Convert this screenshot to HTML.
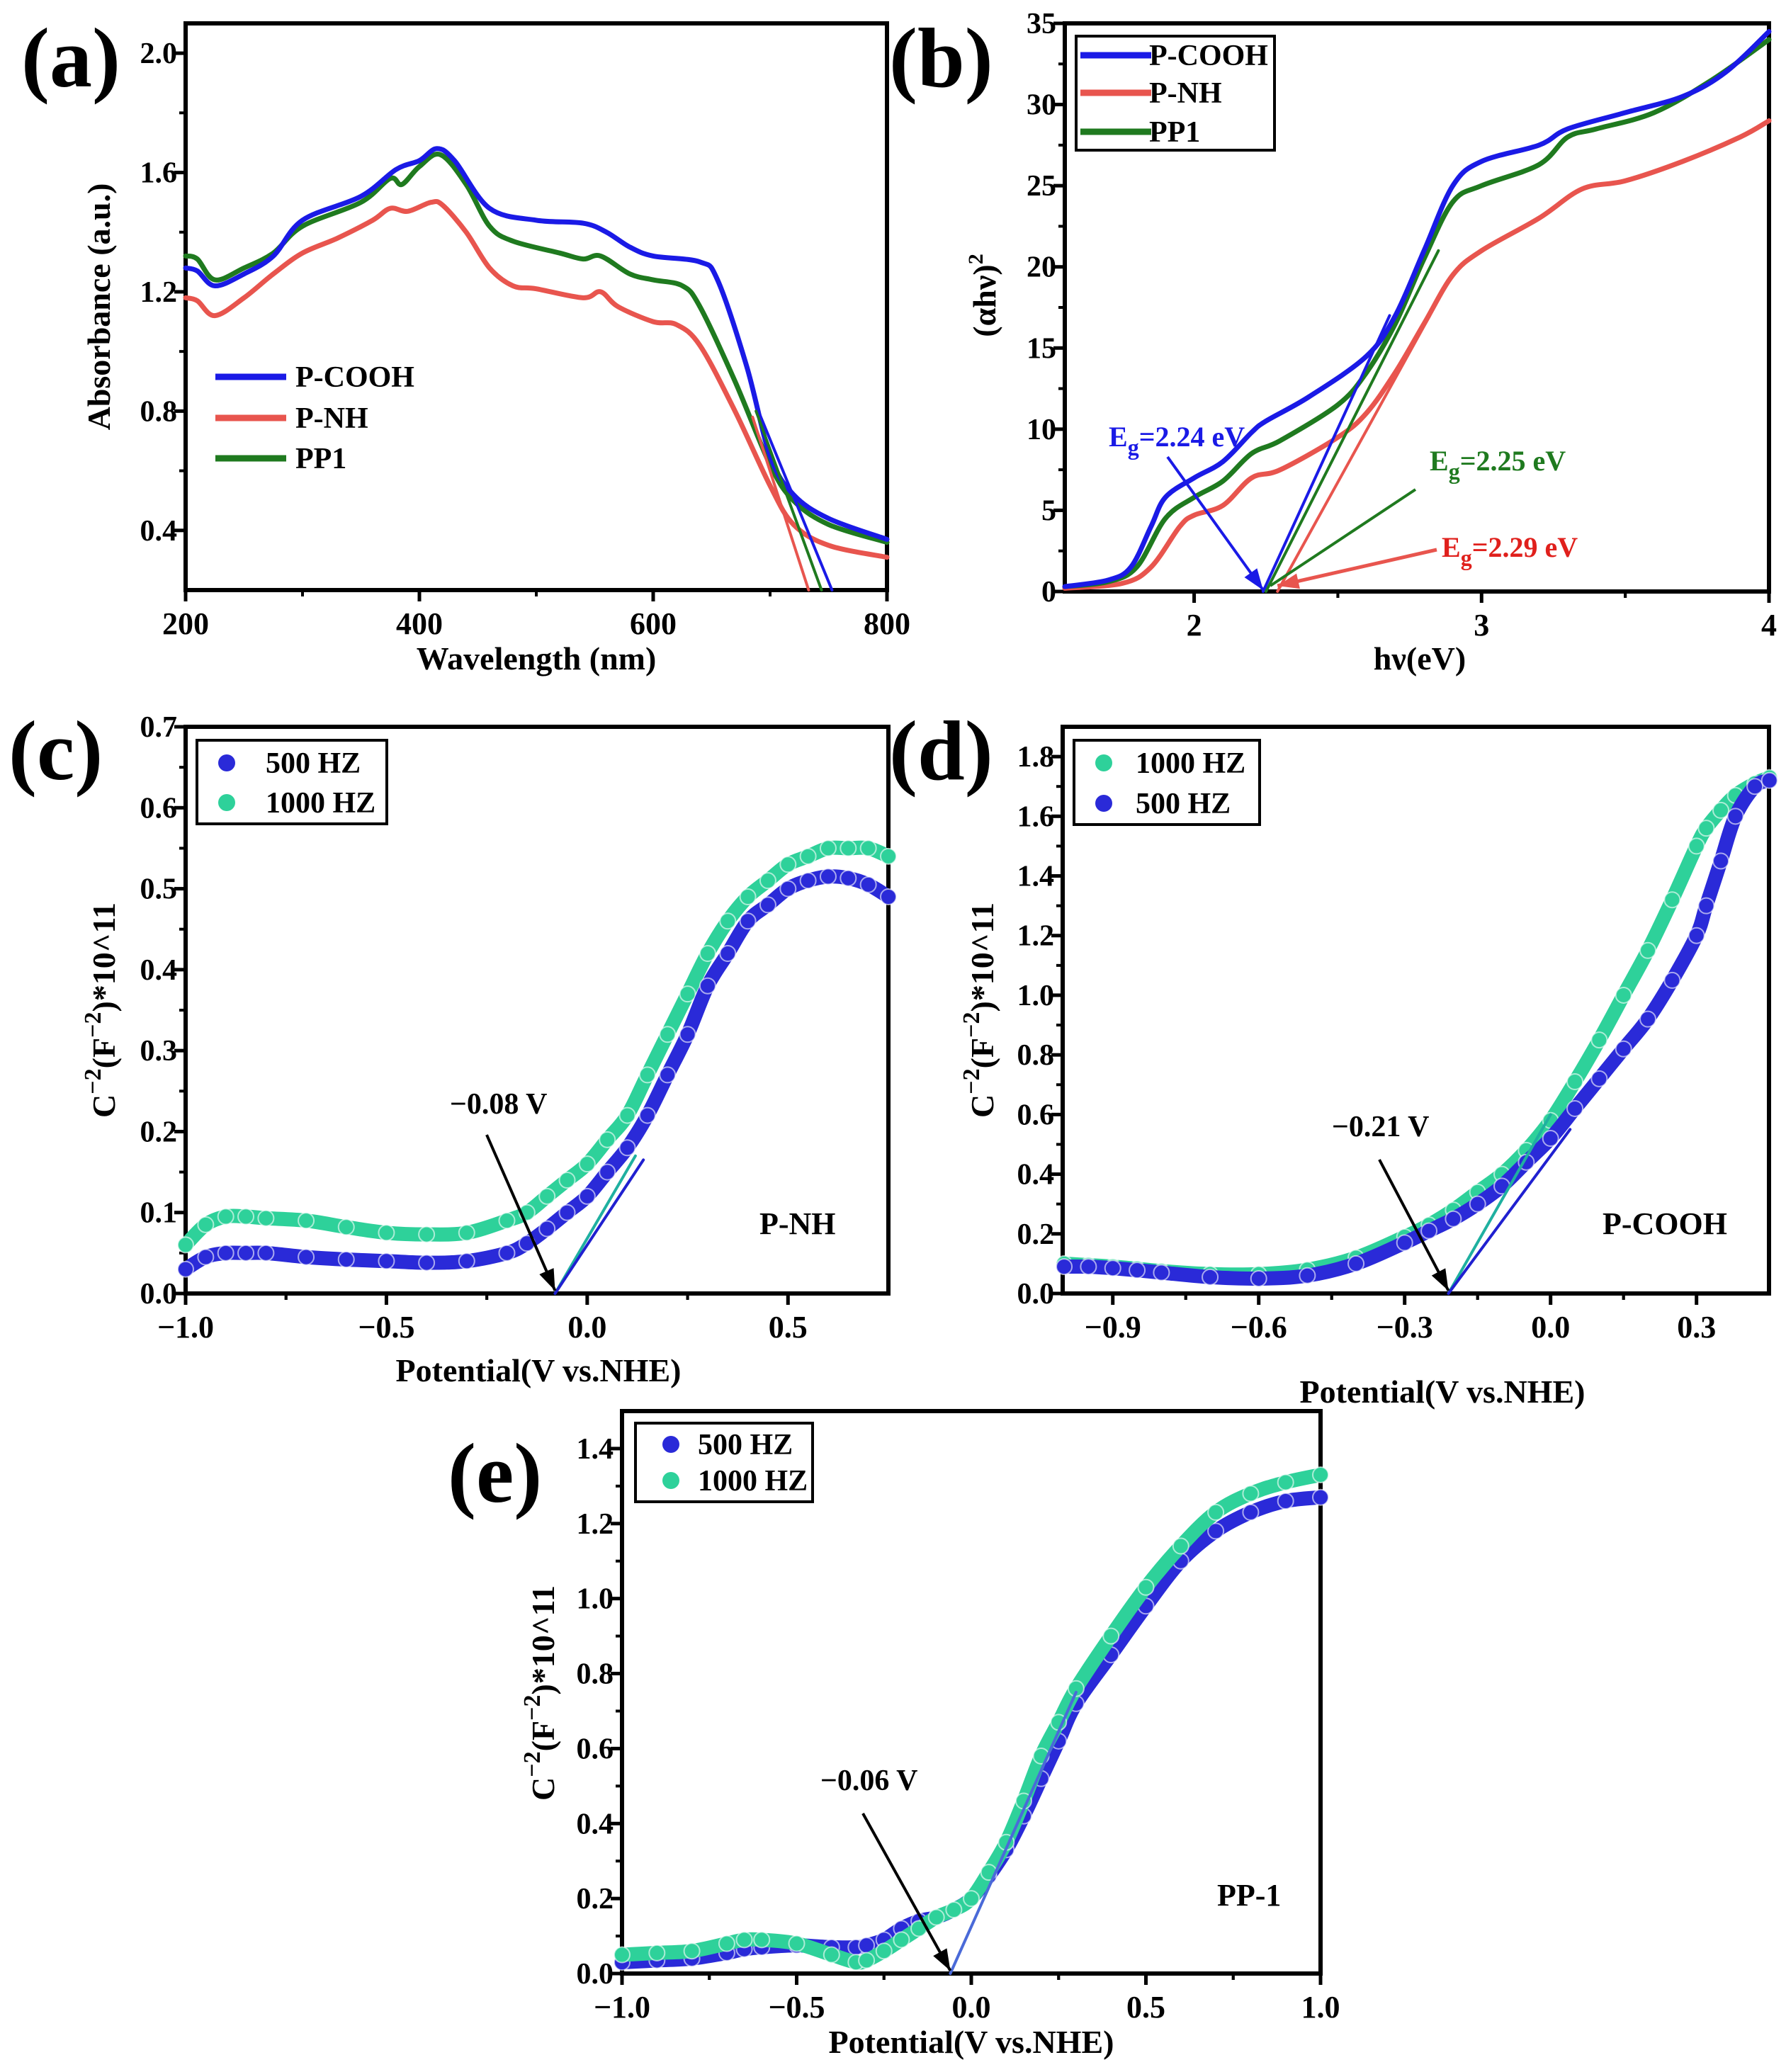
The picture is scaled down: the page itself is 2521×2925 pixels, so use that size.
<!DOCTYPE html>
<html><head><meta charset="utf-8"><style>
html,body{margin:0;padding:0;background:#fff;}
svg{display:block;font-family:"Liberation Serif",serif;font-weight:bold;}
</style></head>
<body>
<svg id="fig" width="2521" height="2925" viewBox="0 0 2521 2925" xmlns="http://www.w3.org/2000/svg">
<rect x="0" y="0" width="2521" height="2925" fill="#fff"/>
<text x="30" y="122" font-size="120">(a)</text>
<text x="1255" y="122" font-size="120">(b)</text>
<text x="12" y="1100" font-size="120">(c)</text>
<text x="1255" y="1100" font-size="120">(d)</text>
<text x="632" y="2120" font-size="120">(e)</text>
</svg>
<script>
// ---- Panel (a) absorbance data ----
const aX_cooh = [200,210,225,250,275,300,350,380,400,415,430,460,500,540,560,580,600,640,655,680,700,720,750,800];
const aY_cooh = [1.28,1.27,1.22,1.26,1.32,1.44,1.52,1.61,1.64,1.68,1.64,1.48,1.44,1.43,1.40,1.35,1.32,1.30,1.24,0.95,0.65,0.52,0.44,0.37];
const aX_nh = [200,210,225,250,275,300,330,360,375,390,410,420,440,460,480,500,540,555,570,600,620,640,670,700,720,750,800];
const aY_nh = [1.18,1.17,1.12,1.18,1.26,1.33,1.38,1.44,1.48,1.47,1.50,1.49,1.40,1.28,1.22,1.21,1.18,1.20,1.15,1.10,1.09,1.02,0.80,0.55,0.42,0.35,0.31];
const aX_pp1 = [200,210,225,250,275,300,350,375,385,400,418,440,460,480,520,540,555,580,600,625,640,670,700,720,750,800];
const aY_pp1 = [1.32,1.31,1.24,1.28,1.33,1.42,1.50,1.58,1.56,1.62,1.66,1.56,1.42,1.37,1.33,1.31,1.32,1.26,1.24,1.22,1.15,0.90,0.62,0.50,0.42,0.36];
const aTangentX = [[690,753],[685,733],[688,744]];
const aTangentY = [[0.80,0.2],[0.78,0.2],[0.80,0.2]];
const aXTicks = [200,400,600,800];
const aYTicks = [0.4,0.8,1.2,1.6,2.0];
// ---- Panel (b) Tauc data ----
const bX_cooh = [1.55,1.7,1.78,1.85,1.9,2.0,2.1,2.2,2.25,2.4,2.6,2.7,2.8,2.9,3.0,3.2,3.3,3.5,3.7,3.85,4.0];
const bY_cooh = [0.3,0.7,1.5,4,5.8,7,8,9.8,10.5,12,14.5,17,21,25,26.5,27.5,28.5,29.5,30.5,32,34.5];
const bX_pp1 = [1.55,1.7,1.8,1.9,2.0,2.1,2.2,2.3,2.5,2.6,2.7,2.8,2.9,3.0,3.2,3.3,3.4,3.6,3.8,4.0];
const bY_pp1 = [0.3,0.6,1.5,4.5,5.8,6.8,8.5,9.3,11.5,13.5,16.5,20.5,24,25,26.3,28,28.5,29.5,31.5,34];
const bX_nh = [1.55,1.75,1.85,1.95,2.0,2.1,2.2,2.3,2.5,2.6,2.7,2.8,2.9,3.0,3.2,3.35,3.5,3.7,3.9,4.0];
const bY_nh = [0.2,0.5,1.5,4,4.7,5.3,7,7.5,9.5,11,13.5,16.5,19.5,21,23,24.8,25.3,26.5,28,29];
const bEg = [2.24,2.25,2.29];
const bTangentTopX = [2.68,2.85,2.82];
const bTangentTopY = [17,21,17];
const bXTicks = [2,3,4];
const bYTicks = [0,5,10,15,20,25,30,35];
// ---- Panel (c) P-NH Mott-Schottky ----
const cX = [-1,-0.95,-0.9,-0.85,-0.8,-0.7,-0.6,-0.5,-0.4,-0.3,-0.2,-0.15,-0.1,-0.05,0,0.05,0.1,0.15,0.2,0.25,0.3,0.35,0.4,0.45,0.5,0.55,0.6,0.65,0.7,0.75];
const cY500 = [0.03,0.045,0.05,0.05,0.05,0.045,0.042,0.04,0.038,0.04,0.05,0.062,0.08,0.1,0.12,0.15,0.18,0.22,0.27,0.32,0.38,0.42,0.46,0.48,0.5,0.51,0.515,0.513,0.505,0.49];
const cY1000 = [0.06,0.085,0.095,0.095,0.093,0.09,0.082,0.075,0.073,0.075,0.09,0.1,0.12,0.14,0.16,0.19,0.22,0.27,0.32,0.37,0.42,0.46,0.49,0.51,0.53,0.54,0.55,0.55,0.55,0.54];
const cXTicks = [-1.0,-0.5,0.0,0.5];
const cYTicks = [0,0.1,0.2,0.3,0.4,0.5,0.6,0.7];
// ---- Panel (d) P-COOH ----
const dX = [-1,-0.95,-0.9,-0.85,-0.8,-0.7,-0.6,-0.5,-0.4,-0.3,-0.25,-0.2,-0.15,-0.1,-0.05,0,0.05,0.1,0.15,0.2,0.25,0.3,0.32,0.35,0.38,0.42,0.45];
const dY500 = [0.09,0.09,0.085,0.078,0.07,0.055,0.05,0.06,0.1,0.17,0.21,0.25,0.3,0.36,0.44,0.52,0.62,0.72,0.82,0.92,1.05,1.2,1.3,1.45,1.6,1.7,1.72];
const dY1000 = [0.1,0.095,0.09,0.083,0.075,0.065,0.065,0.08,0.12,0.19,0.23,0.28,0.34,0.4,0.48,0.58,0.71,0.85,1.0,1.15,1.32,1.5,1.56,1.62,1.67,1.71,1.73];
const dXTicks = [-0.9,-0.6,-0.3,0.0,0.3];
const dYTicks = [0,0.2,0.4,0.6,0.8,1.0,1.2,1.4,1.6,1.8];
// ---- Panel (e) PP-1 ----
const eX = [-1,-0.9,-0.8,-0.7,-0.65,-0.6,-0.5,-0.4,-0.33,-0.3,-0.25,-0.2,-0.15,-0.1,-0.05,0,0.05,0.1,0.15,0.2,0.25,0.3,0.4,0.5,0.6,0.7,0.8,0.9,1.0];
const eY500 = [0.03,0.035,0.04,0.055,0.065,0.07,0.075,0.07,0.07,0.075,0.09,0.12,0.14,0.15,0.17,0.2,0.26,0.33,0.42,0.52,0.62,0.72,0.85,0.98,1.1,1.18,1.23,1.26,1.27];
const eY1000 = [0.05,0.055,0.06,0.08,0.09,0.09,0.08,0.05,0.03,0.035,0.06,0.09,0.12,0.15,0.17,0.2,0.27,0.35,0.46,0.58,0.67,0.76,0.9,1.03,1.14,1.23,1.28,1.31,1.33];
const eXTicks = [-1.0,-0.5,0.0,0.5,1.0];
const eYTicks = [0,0.2,0.4,0.6,0.8,1.0,1.2,1.4];

const NS = "http://www.w3.org/2000/svg";
const svg = document.getElementById('fig');
function mk(tag, attrs, parent){
  const e = document.createElementNS(NS, tag);
  for (const k in attrs) e.setAttribute(k, attrs[k]);
  (parent||svg).appendChild(e);
  return e;
}
function scale(d0,d1,r0,r1){ return v => r0 + (v-d0)/(d1-d0)*(r1-r0); }
function fmt(v, dec){ const s = Math.abs(v).toFixed(dec); return (v<0?'\u2212':'') + s; }
function smoothPath(pts){
  let d = 'M'+pts[0][0].toFixed(1)+','+pts[0][1].toFixed(1);
  for(let i=0;i<pts.length-1;i++){
    const p0=pts[Math.max(0,i-1)], p1=pts[i], p2=pts[i+1], p3=pts[Math.min(pts.length-1,i+2)];
    const c1x=p1[0]+(p2[0]-p0[0])/6, c1y=p1[1]+(p2[1]-p0[1])/6;
    const c2x=p2[0]-(p3[0]-p1[0])/6, c2y=p2[1]-(p3[1]-p1[1])/6;
    d+=`C${c1x.toFixed(1)},${c1y.toFixed(1)} ${c2x.toFixed(1)},${c2y.toFixed(1)} ${p2[0].toFixed(1)},${p2[1].toFixed(1)}`;
  }
  return d;
}

function axes(p){
  const g = mk('g',{});
  
  
  mk('rect',{x:p.L,y:p.T,width:p.R-p.L,height:p.B-p.T,fill:'none',stroke:'#000','stroke-width':6},g);
  p.xt.forEach(v=>{
    const x = p.sx(v);
    mk('line',{x1:x,y1:p.B,x2:x,y2:p.B+16,stroke:'#000','stroke-width':5},g);
    const t = mk('text',{x:x,y:p.B+62,'font-size':44,'text-anchor':'middle'},g);
    t.textContent = fmt(v,p.xdec);
    
    
  });
  for(let i=0;i<p.xt.length;i++){
    const m = p.xt[i] + (p.xt[1]-p.xt[0])/2;
    const mm = p.xt[i] - (p.xt[1]-p.xt[0])/2;
    [m,mm].forEach(v=>{ const x=p.sx(v); if(x>p.L+3&&x<p.R-3) mk('line',{x1:x,y1:p.B,x2:x,y2:p.B+9,stroke:'#000','stroke-width':4},g);});
  }
  p.yt.forEach(v=>{
    const y = p.sy(v);
    mk('line',{x1:p.L,y1:y,x2:p.L-16,y2:y,stroke:'#000','stroke-width':5},g);
    const t = mk('text',{x:p.L-12,y:y+14,'font-size':42,'text-anchor':'end'},g);
    t.textContent = fmt(v,p.ydec);
    
    
  });
  for(let i=0;i<p.yt.length;i++){
    const v = p.yt[i] + (p.yt[1]-p.yt[0])/2;
    const y=p.sy(v); if(y>p.T+3&&y<p.B-3) mk('line',{x1:p.L,y1:y,x2:p.L-9,y2:y,stroke:'#000','stroke-width':4},g);
  }
  const xt = mk('text',{x:p.xtx,y:p.xty,'font-size':46,'text-anchor':'middle'},g);
  xt.textContent = p.xtitle;
  
  
  const yt = mk('text',{x:0,y:0,'font-size':p.ytfs||46,'text-anchor':'middle',transform:`translate(${p.ytx},${p.yty}) rotate(-90)`},g);
  yt.innerHTML = p.ytitle;
  
  
}
function line(p, xs, ys, color, w, nm){
  const pts = xs.map((x,i)=>[p.sx(x),p.sy(ys[i])]);
  const e = mk('path',{d:smoothPath(pts),fill:'none',stroke:color,'stroke-width':w,'stroke-linejoin':'round','stroke-linecap':'round'});
  
  
  return e;
}
function scatter(p, xs, ys, color, nm){
  const g = mk('g',{});
  
  
  const pts = xs.map((x,i)=>[p.sx(x),p.sy(ys[i])]);
  mk('path',{d:smoothPath(pts),fill:'none',stroke:color,'stroke-width':20,'stroke-linejoin':'round','stroke-linecap':'round'},g);
  xs.forEach((x,i)=>{
    const c = mk('circle',{cx:p.sx(x),cy:p.sy(ys[i]),r:11,fill:color,stroke:'#fff','stroke-width':2,'stroke-opacity':0.6},g);
    
    
  });
}
function arrow(x1,y1,x2,y2,color,w,nm,head){
  const g = mk('g',{});
  
  
  mk('line',{x1:x1,y1:y1,x2:x2,y2:y2,stroke:color,'stroke-width':w},g);
  if(head!==false){
    const a=Math.atan2(y2-y1,x2-x1), L=30, W=11;
    const bx=x2-L*Math.cos(a), by=y2-L*Math.sin(a);
    mk('polygon',{points:`${x2},${y2} ${bx-W*Math.sin(a)},${by+W*Math.cos(a)} ${bx+W*Math.sin(a)},${by-W*Math.cos(a)}`,fill:color},g);
  }
}
function label(x,y,txt,size,color,nm){
  const t = mk('text',{x:x,y:y,'font-size':size,fill:color||'#000'});
  t.innerHTML = txt;
  
  
  return t;
}
function legendBox(x,y,w,h,nm){
  const r = mk('rect',{x:x,y:y,width:w,height:h,fill:'#fff',stroke:'#000','stroke-width':4});
  
  
}
function legendEntry(kind,x,y,color,txt,nm,tx){
  const g = mk('g',{});
  
  
  if(kind==='line') mk('line',{x1:x,y1:y,x2:x+100,y2:y,stroke:color,'stroke-width':9},g);
  else mk('circle',{cx:x,cy:y,r:12,fill:color},g);
  const t = mk('text',{x:tx,y:y+14,'font-size':42},g);
  t.textContent = txt;
}

const BLUE='#1a1ae6', RED='#e8554e', GREEN='#1f7a1f', MB='#2a2ad8', MG='#2ed19a';

// Panel a
const pa = {name:'panel-a',L:262,R:1252,T:33,B:833,xdec:0,ydec:1,xt:aXTicks,yt:aYTicks,
  xtitle:'Wavelength (nm)',xtx:757,xty:945,ytitle:'Absorbance (a.u.)',ytx:155,yty:433};
pa.sx=scale(200,800,pa.L,pa.R); pa.sy=scale(0.2,2.1,pa.B,pa.T);
axes(pa);
line(pa,aX_nh,aY_nh,RED,7,'p-nh-absorbance-line');
line(pa,aX_pp1,aY_pp1,GREEN,7,'pp1-absorbance-line');
line(pa,aX_cooh,aY_cooh,BLUE,7,'p-cooh-absorbance-line');
[BLUE,RED,GREEN].forEach((c,i)=>{ line(pa,aTangentX[i],aTangentY[i],c,4,'absorbance-edge-tangent'); });
legendEntry('line',304,532,BLUE,'P-COOH','legend-entry-p-cooh',417);
legendEntry('line',304,590,RED,'P-NH','legend-entry-p-nh',417);
legendEntry('line',304,647,GREEN,'PP1','legend-entry-pp1',417);

// Panel b
const pb = {name:'panel-b',L:1503,R:2497,T:33,B:835,xdec:0,ydec:0,xt:bXTicks,yt:bYTicks,
  xtitle:'hν(eV)',xtx:2004,xty:945,ytitle:'(αhν)<tspan dy="-18" font-size="30">2</tspan>',ytx:1405,yty:417};
pb.sx=scale(1.55,4.0,pb.L,pb.R); pb.sy=scale(0,35,pb.B,pb.T);
axes(pb);
line(pb,bX_nh,bY_nh,RED,7,'p-nh-tauc-line');
line(pb,bX_pp1,bY_pp1,GREEN,7,'pp1-tauc-line');
line(pb,bX_cooh,bY_cooh,BLUE,7,'p-cooh-tauc-line');
[BLUE,GREEN,RED].forEach((c,i)=>{ line(pb,[bEg[i],bTangentTopX[i]],[0,bTangentTopY[i]],c,4,'tauc-tangent-line'); });
arrow(1648,645,pb.sx(bEg[0]),pb.B-2,BLUE,4,'eg-arrow-p-cooh');
arrow(1998,691,pb.sx(bEg[1])+6,pb.B-8,GREEN,4,'eg-arrow-pp1',false);
arrow(2028,776,pb.sx(bEg[2]),pb.B-8,RED,5,'eg-arrow-p-nh');
label(1565,630,'E<tspan dy="12" font-size="32">g</tspan><tspan dy="-12">=2.24 eV</tspan>',40,BLUE,'eg-label-p-cooh');
label(2018,664,'E<tspan dy="12" font-size="32">g</tspan><tspan dy="-12">=2.25 eV</tspan>',40,GREEN,'eg-label-pp1');
label(2035,786,'E<tspan dy="12" font-size="32">g</tspan><tspan dy="-12">=2.29 eV</tspan>',40,'#e0201c','eg-label-p-nh');
legendBox(1519,51,280,161,'panel-b-legend');
legendEntry('line',1525,78,BLUE,'P-COOH','legend-entry-p-cooh',1622);
legendEntry('line',1525,131,RED,'P-NH','legend-entry-p-nh',1622);
legendEntry('line',1525,186,GREEN,'PP1','legend-entry-pp1',1622);

const msTitle = 'C<tspan dy="-20" font-size="34">−2</tspan><tspan dy="20">(F</tspan><tspan dy="-20" font-size="34">−2</tspan><tspan dy="20">)*10^11</tspan>';

// Panel c
const pc = {name:'panel-c',L:262,R:1254,T:1026,B:1826,xdec:1,ydec:1,xt:cXTicks,yt:cYTicks,
  xtitle:'Potential(V vs.NHE)',xtx:760,xty:1950,ytitle:msTitle,ytx:162,yty:1426};
pc.sx=scale(-1,0.75,pc.L,pc.R); pc.sy=scale(0,0.7,pc.B,pc.T);
axes(pc);
scatter(pc,cX,cY1000,MG,'series-1000hz-p-nh');
scatter(pc,cX,cY500,MB,'series-500hz-p-nh');
line(pc,[-0.08,0.12],[0,0.17],'#1fb0a0',4,'tangent-1000hz');
line(pc,[-0.08,0.14],[0,0.165],'#2020d0',4,'tangent-500hz');
arrow(687,1602,pc.sx(-0.08),pc.B-4,'#000',4,'flatband-arrow-p-nh');
label(635,1572,'−0.08 V',42,'#000','flatband-label-p-nh');
label(1072,1742,'P-NH',44,'#000','sample-label-p-nh');
legendBox(278,1045,268,118,'panel-c-legend');
legendEntry('dot',320,1077,MB,'500 HZ','legend-entry-500hz',375);
legendEntry('dot',320,1133,MG,'1000 HZ','legend-entry-1000hz',375);

// Panel d
const pd = {name:'panel-d',L:1500,R:2497,T:1026,B:1826,xdec:1,ydec:1,xt:dXTicks,yt:dYTicks,
  xtitle:'Potential(V vs.NHE)',xtx:2036,xty:1980,ytitle:msTitle,ytx:1402,yty:1426};
pd.sx=scale(-1.003,0.449,pd.L,pd.R); pd.sy=scale(0,1.9,pd.B,pd.T);
axes(pd);
scatter(pd,dX,dY1000,MG,'series-1000hz-p-cooh');
scatter(pd,dX,dY500,MB,'series-500hz-p-cooh');
line(pd,[-0.21,0.0],[0,0.6],'#1fb0a0',4,'tangent-1000hz');
line(pd,[-0.21,0.04],[0,0.55],'#2020d0',4,'tangent-500hz');
arrow(1947,1637,pd.sx(-0.21),pd.B-4,'#000',4,'flatband-arrow-p-cooh');
label(1880,1604,'−0.21 V',42,'#000','flatband-label-p-cooh');
label(2262,1742,'P-COOH',44,'#000','sample-label-p-cooh');
legendBox(1516,1045,262,119,'panel-d-legend');
legendEntry('dot',1558,1077,MG,'1000 HZ','legend-entry-1000hz',1603);
legendEntry('dot',1558,1134,MB,'500 HZ','legend-entry-500hz',1603);

// Panel e
const pe = {name:'panel-e',L:878,R:1864,T:1992,B:2786,xdec:1,ydec:1,xt:eXTicks,yt:eYTicks,
  xtitle:'Potential(V vs.NHE)',xtx:1371,xty:2898,ytitle:msTitle,ytx:782,yty:2390};
pe.sx=scale(-1,1,pe.L,pe.R); pe.sy=scale(0,1.5,pe.B,pe.T);
axes(pe);
scatter(pe,eX,eY500,MB,'series-500hz-pp1');
scatter(pe,eX,eY1000,MG,'series-1000hz-pp1');
line(pe,[-0.06,0.3],[0,0.75],'#4a6ad8',4,'tangent-line-pp1');
arrow(1218,2560,pe.sx(-0.06),pe.B-4,'#000',4,'flatband-arrow-pp1');
label(1158,2527,'−0.06 V',42,'#000','flatband-label-pp1');
label(1718,2690,'PP-1',44,'#000','sample-label-pp1');
legendBox(897,2009,250,111,'panel-e-legend');
legendEntry('dot',947,2039,MB,'500 HZ','legend-entry-500hz',985);
legendEntry('dot',947,2090,MG,'1000 HZ','legend-entry-1000hz',985);
</script>
</body></html>
